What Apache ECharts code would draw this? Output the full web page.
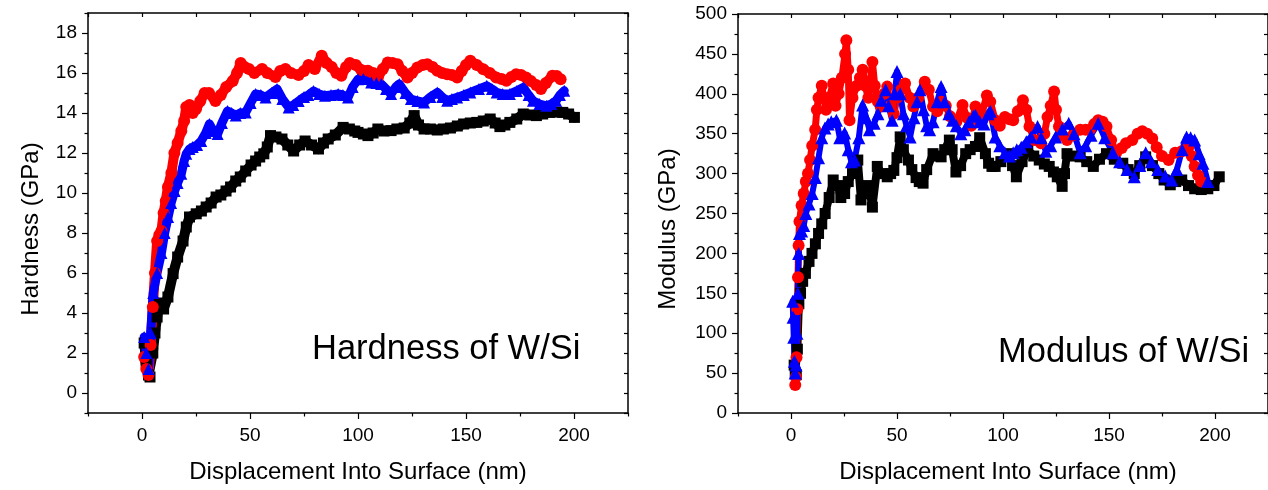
<!DOCTYPE html>
<html><head><meta charset="utf-8">
<script src="https://cdn.jsdelivr.net/npm/echarts@6/dist/echarts.min.js"></script>
<style>html,body{margin:0;padding:0;background:#fff}#c{width:1268px;height:490px}</style>
</head><body><div id="c"></div>
<script>
// ---------- tick labels ----------
const dispTicks = [-25,0,25,50,75,100,125,150,175,200,225];
const hardTicks = [-1,0,1,2,3,4,5,6,7,8,9,10,11,12,13,14,15,16,17,18,19];
const modTicks = [0,25,50,75,100,125,150,175,200,225,250,275,300,325,350,375,400,425,450,475,500];

// ---------- Hardness (GPa) vs displacement (nm) ----------
const hardRedX = [1,2,3,4,5,6,7,8,9,10,11,12,13.6,15,16.5,18.2,19.5,20.5,22,23.5,25,27,29,31,34,36.5,39,42,44,45.7,47.5,49.5,52,55.6,58,61.8,64,66.4,69,72.5,75,77.1,80,83.2,85.5,87.8,90,92.3,94.5,96.2,99,101.5,104.6,107,109.2,111.5,113.8,116,118.3,120.5,122.9,125,127.5,130,132.1,134.5,136.7,139,141.3,143.5,145.9,148,150,152,155,158,161,164,166.5,168.7,171,173.2,175.5,177.8,180,182.5,184.7,187,190,192,193.8];
const hardRedY = [1.8,1.2,0.9,2.4,4.3,6.0,7.6,7.9,8.1,9.0,9.6,10.3,11.0,12.0,12.5,13.1,13.6,14.3,14.4,14.0,14.2,14.6,15.0,15.0,14.6,14.9,15.3,15.6,16.0,16.5,16.3,16.2,16.0,16.2,16.0,15.8,16.1,16.2,16.0,15.9,16.1,16.4,16.2,16.86,16.5,16.3,16.0,15.86,16.3,16.5,16.4,16.15,16.11,16.0,15.78,16.2,16.53,16.5,16.44,16.1,15.78,16.0,16.28,16.4,16.44,16.3,16.11,16.0,15.94,15.9,15.78,16.1,16.4,16.61,16.4,16.19,16.0,15.78,15.7,15.61,15.8,15.94,15.9,15.78,15.6,15.4,15.2,15.5,15.86,15.85,15.69];

const hardBlueX = [1,2,3,4,5.2,7,9,10.5,12.1,13.5,15.1,16.5,18.2,19.5,20.5,22,23.5,25.5,27.4,29.5,31.2,33,35,37,39.6,41.5,43.4,45.5,48,50.3,52.6,55,57.2,60,62.5,65,67.9,70,72.5,75,77,79.4,82,84.7,87.5,90.8,93,95.4,97.5,100,102.5,106.1,108.5,110.7,113,115.3,117.5,119.1,122,124.5,127.5,130.6,133.5,136.7,139,141.3,143.5,145.9,149,152,156,159.6,162,164.2,167,170.3,173.5,176.5,179,181,184,187.2,189.5,191.7,193.5,195.5];
const hardBlueY = [2.8,2.0,1.2,3.0,5.0,6.0,7.0,8.0,8.8,9.5,10.1,10.5,10.96,11.6,11.96,12.2,12.3,12.4,12.6,13.0,13.45,13.1,12.95,13.5,14.1,14.0,13.87,14.0,14.03,14.5,14.95,14.9,14.78,15.0,15.2,14.7,14.28,14.4,14.6,14.8,14.9,15.1,14.95,14.86,14.9,14.95,14.9,14.78,15.3,15.69,15.7,15.53,15.5,15.45,15.2,14.95,15.3,15.45,15.0,14.7,14.6,14.53,14.8,15.03,14.8,14.61,14.7,14.78,14.9,15.03,15.2,15.36,15.2,15.03,14.95,14.95,15.1,15.28,14.9,14.61,14.45,14.36,14.45,14.61,14.9,15.11];

const hardBlackX = [1,2,3,3.7,5,6,7,8,10,12,14.4,16.5,19,20.5,22,25.1,27.5,29.7,32,34.3,36.5,38.9,41,43.4,45.5,48,50.5,52.6,54.5,56.4,58,59.5,62,64.8,67.5,70.2,73,75.5,78.5,81.7,84,86.2,89.5,93.1,96,98.5,100,102.5,104.6,107,109.2,112,115.3,118,121.4,124,126,128,130.6,133.5,136.7,139.5,142.8,146,148.9,152,155,158,161.2,163.5,165.7,168,170.3,173.5,176.5,179.5,182.6,185.5,188.7,192,194.8,197.5,200.2];
const hardBlackY = [2.5,1.5,0.9,0.8,2.0,3.0,3.8,4.5,4.2,4.8,5.97,6.8,7.6,8.3,8.8,8.96,9.1,9.3,9.5,9.8,9.9,10.1,10.3,10.6,10.8,11.1,11.4,11.6,11.8,11.96,12.3,12.87,12.8,12.7,12.4,12.1,12.4,12.6,12.4,12.2,12.5,12.7,12.9,13.28,13.2,13.1,13.03,12.95,12.87,13.0,13.2,13.1,13.12,13.2,13.25,13.5,13.87,13.4,13.2,13.2,13.15,13.2,13.25,13.35,13.45,13.5,13.53,13.6,13.7,13.5,13.32,13.4,13.53,13.7,13.95,13.9,13.87,13.95,14.03,14.05,14.03,13.95,13.78];

// ---------- Modulus (GPa) vs displacement (nm) ----------
const modRedX = [2,2.3,2.6,3,3.3,3.6,4,5,6,7,8,9,10,11.4,12.2,13,14.5,15.5,16.5,18,19.9,21,22.5,24,25.5,26.1,27,27.6,29,31,32.5,33.8,35,36.5,38.4,39.5,41,42.3,44,45.4,47,48.5,50,52,53.8,56,57.7,60,63.1,65,67,69,71,73,75,78,80.9,83,85,87,90,92.4,94,96.3,98.5,100.9,103,104.8,107,109.4,111,112.5,114.8,117.9,119.5,121,122.5,124.1,125,126.4,128,130.2,133,136.4,139,141,143,144.9,147,148.8,151,153.4,156,158,161,163.5,165.7,168,170.4,172.5,175,178.1,181.2,184.3,187.4,189,190.4,192,193.5];
const modRedY = [35,45,70,130,170,210,240,260,275,290,300,317,335,355,380,395,410,395,380,395,413,385,400,420,450,467,430,367,395,410,420,430,410,395,440,410,390,384,400,409,385,375,395,405,413,395,384,395,415,405,384,378,390,385,372,365,386,370,360,384,375,398,390,367,360,371,368,367,378,392,380,359,342,338,350,371,385,403,380,359,348,342,348,355,355,355,362,367,365,359,342,326,332,338,342,350,353,350,344,333,322,317,326,328,333,322,309,298,290];

const modBlueX = [0.8,1,1.3,1.6,2,2.4,2.8,3.2,3.6,4,5,6,7,8.5,10,11.5,13,14.5,16,17.5,19,21.4,23,25.3,27,28.5,30,32,33.8,35.5,37,39.2,41,42.5,44.6,46,47.7,49,50,51.5,53,54.5,56.2,58,59.5,60.8,62.5,64,65.4,67,69,70.8,72.5,74.5,76.2,78,80.1,82,84,86,87,89,91,93,94,96.3,98.5,100.9,103,104.8,106.5,108.6,111,113.2,116.3,118,120.2,122.5,124.8,128,131,133.5,136.4,139,141.5,144.9,148,151.9,155,158.5,161.9,164.5,167.3,170,173,176.5,179.6,182,184.5,186.6,188.5,190.4,192.5,194.3,196.6];
const modBlueY = [140,120,95,65,50,60,100,150,200,225,228,235,250,262,275,295,320,345,357,362,365,367,345,351,330,315,317,345,386,370,355,363,375,392,405,385,367,400,428,400,375,360,346,370,390,405,380,360,355,365,390,409,390,375,367,360,350,355,365,372,373,365,362,375,378,346,335,326,322,326,330,333,340,346,359,345,328,335,346,356,363,350,326,335,348,363,345,326,315,305,296,310,326,315,305,297,292,305,330,346,345,342,325,313,290];

const modBlackX = [1.5,2,2.5,3,3.7,4.5,5.5,6.8,8.5,9.9,11.5,13,14.5,16.1,18,19.9,22,23.5,25.3,27,29,31.5,33,35,36.5,38.4,40.7,43,45.4,47,48.5,50,51.5,53,55.4,57,59,60.5,62.3,64,67,69,70.8,72.5,74.7,76,77.8,80,82.4,84.5,87,89,91.7,93.2,94.8,96.3,99,102.5,104.5,106.3,109,111.7,114.5,117.1,119.5,121.8,123.8,125.6,127.9,129,130.2,133,136.4,139.5,142.6,145.5,148.8,152.5,156.5,159,161.9,164.5,167.3,170.5,173.5,176,178.9,181.5,184.3,187.5,190.4,193.5,196.6,199.5,202];
const modBlackY = [60,50,48,80,137,150,165,175,190,200,212,225,237,250,270,292,285,270,275,290,300,317,267,275,285,258,309,300,296,300,304,320,346,330,317,305,295,290,288,305,325,322,321,330,342,330,302,310,325,330,334,345,325,313,309,309,315,325,310,296,315,330,322,317,312,309,302,296,284,300,325,322,321,315,309,318,325,318,313,305,300,310,321,310,300,292,286,290,292,285,281,280,281,285,296];

// ---------- build chart ----------
const FONT = "'Liberation Sans', Arial, Helvetica, sans-serif";
const AX = '#000';
const grids = [
  {left: 88, top: 13, width: 540, height: 400},
  {left: 738, top: 14, width: 540, height: 399}
];
const xAxes = [], yAxes = [];
const xIdx = [], yIdx = [];

function valueAxis(g, pos, ticks, showTicks) {
  return {
    type: 'value', gridIndex: g, position: pos,
    min: ticks[0], max: ticks[ticks.length - 1], interval: ticks[1] - ticks[0],
    splitLine: {show: false}, axisLabel: {show: false},
    axisLine: {show: true, onZero: false, lineStyle: {color: AX, width: 1.5}},
    axisTick: {show: showTicks, inside: true, length: 4, lineStyle: {color: AX, width: 1.2}}
  };
}
function catAxis(g, pos, ticks, major, wantMajor, len, labels, margin) {
  const sel = (i) => (Math.abs(ticks[i] % major) < 1e-9) === wantMajor;
  return {
    type: 'category', gridIndex: g, position: pos, data: ticks.map(String), boundaryGap: false,
    axisLine: {show: false, onZero: false},
    splitLine: {show: false},
    axisTick: {show: true, inside: false, length: len, interval: (i) => sel(i), lineStyle: {color: AX, width: 1.2}},
    axisLabel: {show: labels, interval: (i) => sel(i), margin: margin, color: '#000', fontFamily: FONT, fontSize: 19}
  };
}
function addGridAxes(g, xT, xMajor, yT, yMajor) {
  xIdx[g] = xAxes.length;
  xAxes.push(valueAxis(g, 'bottom', xT, false));
  xAxes.push(valueAxis(g, 'top', xT, true));
  xAxes.push(catAxis(g, 'bottom', xT, xMajor, true, 6, true, 13));
  xAxes.push(catAxis(g, 'bottom', xT, xMajor, false, 3.5, false, 13));
  yIdx[g] = yAxes.length;
  yAxes.push(valueAxis(g, 'left', yT, false));
  yAxes.push(valueAxis(g, 'right', yT, true));
  yAxes.push(catAxis(g, 'left', yT, yMajor, true, 6, true, 11));
  yAxes.push(catAxis(g, 'left', yT, yMajor, false, 3.5, false, 11));
}
addGridAxes(0, dispTicks, 50, hardTicks, 2);
addGridAxes(1, dispTicks, 50, modTicks, 50);

function mk(name, g, xs, ys, color, symbol, size, lw) {
  return {
    type: 'line', name: name, xAxisIndex: xIdx[g], yAxisIndex: yIdx[g],
    data: xs.map((x, i) => [x, ys[i]]),
    symbol: symbol, symbolSize: size, showSymbol: true, showAllSymbol: true,
    lineStyle: {color: color, width: lw, cap: 'round', join: 'round'},
    itemStyle: {color: color, borderWidth: 0},
    emphasis: {disabled: true}, silent: true, animation: false
  };
}

const series = [
  mk('Hardness black', 0, hardBlackX, hardBlackY, '#000000', 'rect', 11, 10),
  mk('Hardness red', 0, hardRedX, hardRedY, '#ff0000', 'circle', 12, 10),
  mk('Hardness blue', 0, hardBlueX, hardBlueY, '#0000ff', 'triangle', 12, 9),
  mk('Modulus black', 1, modBlackX, modBlackY, '#000000', 'rect', 11, 8),
  mk('Modulus red', 1, modRedX, modRedY, '#ff0000', 'circle', 12, 7),
  mk('Modulus blue', 1, modBlueX, modBlueY, '#0000ff', 'triangle', 13, 6)
];

function txt(text, x, y, size, rot, align) {
  return {type: 'text', x: x, y: y, rotation: rot || 0, silent: true,
    style: {text: text, fill: '#000', fontFamily: FONT, fontSize: size,
      textAlign: align || 'center', textVerticalAlign: 'middle'}};
}

const chart = echarts.init(document.getElementById('c'), null, {renderer: 'canvas'});
chart.setOption({
  animation: false,
  backgroundColor: '#ffffff',
  grid: grids,
  xAxis: xAxes,
  yAxis: yAxes,
  series: series,
  graphic: [
    txt('Hardness (GPa)', 31, 229, 24, Math.PI / 2),
    txt('Modulus (GPa)', 668, 229, 24, Math.PI / 2),
    txt('Displacement Into Surface (nm)', 358, 472, 24),
    txt('Displacement Into Surface (nm)', 1008, 472, 24),
    txt('Hardness of W/Si', 312, 349, 34.5, 0, 'left'),
    txt('Modulus of W/Si', 998, 352, 34.5, 0, 'left')
  ]
});
</script>
</body></html>
